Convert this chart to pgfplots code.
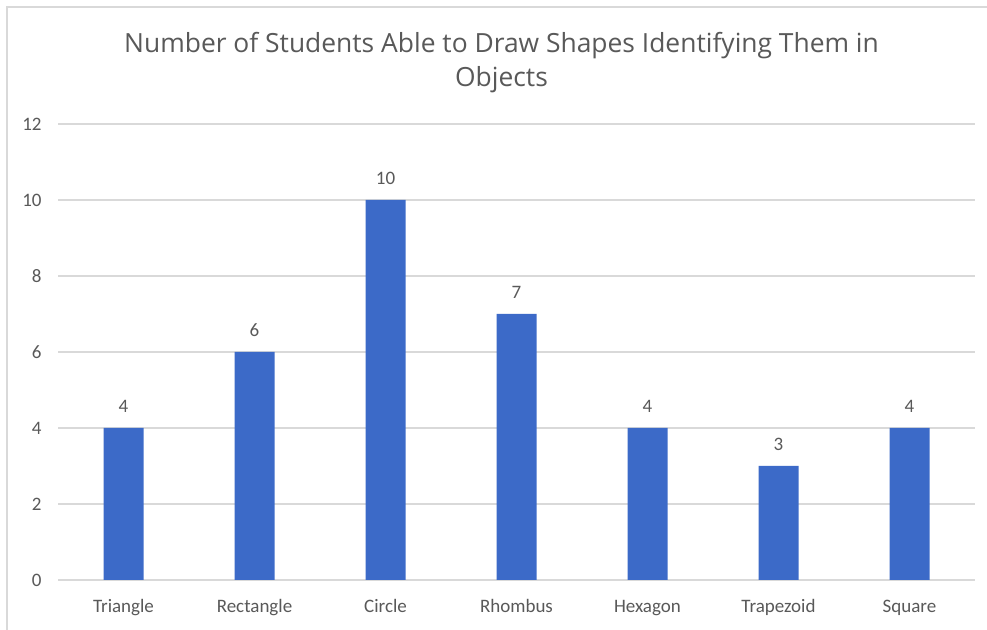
\documentclass[border=0pt]{standalone}
\usepackage{fontspec}
\setmainfont{Carlito}
\newfontfamily\titlefont{Open Sans}
\usepackage{pgfplots}
\pgfplotsset{compat=1.18}
\definecolor{barblue}{HTML}{3C6AC8}
\definecolor{txtgray}{HTML}{595959}
\definecolor{gridgray}{HTML}{D9D9D9}
\begin{document}
\begin{tikzpicture}
\useasboundingbox (0,0) rectangle (493.5pt,315pt);
\fill[white] (0,0) rectangle (493.5pt,315pt);
\draw[gridgray, line width=0.75pt] (3.5pt,0) -- (3.5pt,311.5pt) -- (493.5pt,311.5pt);
\begin{axis}[
  at={(29pt,25pt)}, anchor=south west,
  scale only axis, width=458.5pt, height=228pt,
  xmin=-0.5, xmax=6.5, ymin=0, ymax=12,
  ytick={0,2,...,12},
  xtick={0,...,6},
  xticklabels={Triangle,Rectangle,Circle,Rhombus,Hexagon,Trapezoid,Square},
  axis line style={draw=none},
  major tick length=0pt,
  tick style={draw=none},
  ymajorgrids, grid style={gridgray, line width=0.75pt},
  tick label style={font=\fontsize{9.5}{11}\selectfont, text=txtgray, inner sep=0pt},
  yticklabel style={anchor=east, xshift=-8pt},
  xticklabel style={anchor=base, yshift=-16.5pt},
  /pgf/number format/assume math mode=true,
  ybar, bar width=20pt,
  nodes near coords,
  nodes near coords style={font=\fontsize{9.5}{11}\selectfont, text=txtgray, anchor=base, yshift=7.5pt, inner sep=0pt},
]
\addplot[fill=barblue, draw=none] coordinates {(0,4) (1,6) (2,10) (3,7) (4,4) (5,3) (6,4)};
\end{axis}
\node[anchor=base, font=\titlefont\fontsize{13.2}{16}\selectfont, text=txtgray, inner sep=0pt] at (250.75pt,288.5pt) {Number of Students Able to Draw Shapes Identifying Them in};
\node[anchor=base, font=\titlefont\fontsize{13.2}{16}\selectfont, text=txtgray, inner sep=0pt] at (250.75pt,271.5pt) {Objects};
\end{tikzpicture}
\end{document}
